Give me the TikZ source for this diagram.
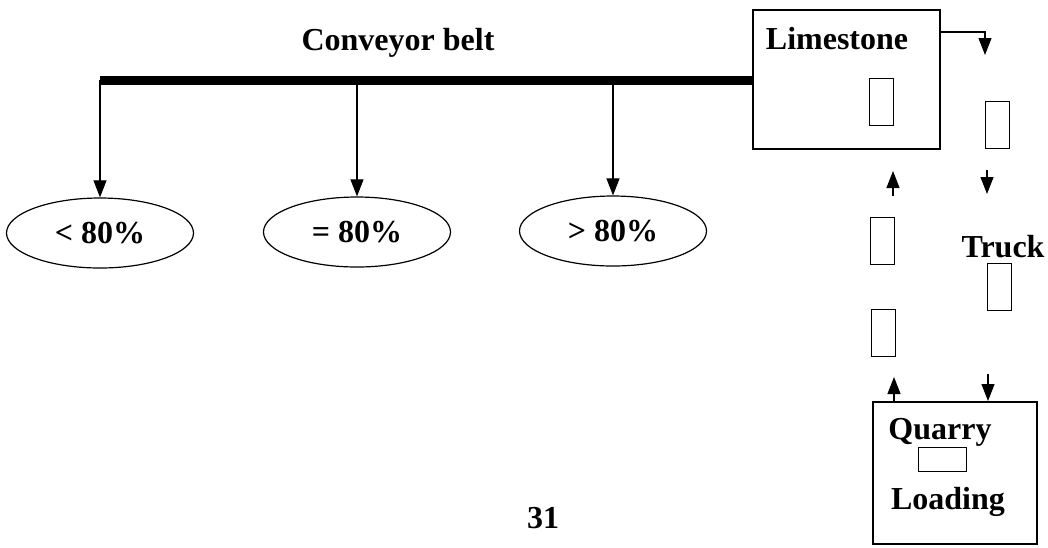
\documentclass[tikz,border=0pt]{standalone}
\usepackage{fontspec}
\setmainfont{Liberation Serif}
\usetikzlibrary{arrows.meta,shapes.geometric}
\begin{document}
\begin{tikzpicture}[x=1pt,y=-1pt,
  lbl/.style={font=\bfseries\fontsize{32}{38}\selectfont, inner sep=0pt},
  pct/.style={draw, ellipse, line width=1.2pt, minimum width=187pt, minimum height=70pt,
              inner sep=0pt, font=\bfseries\fontsize{32}{38}\selectfont},
  bigbox/.style={draw, line width=1.5pt, inner sep=0pt, anchor=north west},
  car/.style={draw, line width=1.3pt, inner sep=0pt, minimum width=24pt, minimum height=47pt, anchor=north west},
  flow/.style={line width=1.1pt, -{Triangle[width=13pt,length=17pt]}},
]
\useasboundingbox (0,0) rectangle (1048,547);

% plant boxes
\node[bigbox, minimum width=187pt, minimum height=139pt] (lime) at (752,9) {};
\node[bigbox, minimum width=164pt, minimum height=142pt] (quarry) at (872,401) {};

% labels
\node[lbl] (tbelt) at (398,43) {Conveyor belt};
\node[lbl] (tlime) at (837,39) {Limestone};
\node[lbl] (ttruck) at (1003,247) {Truck};
\node[lbl] (tquarry) at (940,432) {Quarry};
\node[lbl] (tload) at (948,502) {Loading};
\node[lbl] (tpage) at (543,518) {31};

% trucks
\node[car] (c1) at (869,78) {};
\node[car] (c2) at (985,101) {};
\node[car] (c3) at (870,217) {};
\node[car] (c4) at (987,263) {};
\node[car] (c5) at (871,309) {};
\node[car, minimum width=48pt, minimum height=24pt] (c6) at (918,447) {};

% grade piles
\node[pct] (e1) at (100,233) {< 80\%};
\node[pct] (e2) at (357,232) {= 80\%};
\node[pct] (e3) at (613,231) {> 80\%};

% conveyor belt
\coordinate (beltL) at (100,80);
\draw[line width=9pt] (beltL) -- (beltL -| lime.west);
\draw[flow] (beltL) -- (e1.north);
\draw[flow] (e2.north |- beltL) -- (e2.north);
\draw[flow] (e3.north |- beltL) -- (e3.north);

% truck circuit
\coordinate (d1) at (985,55);
\draw[flow] ([yshift=-23pt]lime.north east) -| (d1);
\coordinate (d2s) at (987,170);
\coordinate (d2e) at (987,194);
\draw[flow] (d2s) -- (d2e);
\coordinate (d3s) at (988,374);
\draw[flow] (d3s) -- (d3s |- quarry.north);
\coordinate (u1) at (894,377);
\draw[flow] (u1 |- quarry.north) -- (u1);
\coordinate (u2s) at (893,196);
\coordinate (u2e) at (893,171);
\draw[flow] (u2s) -- (u2e);
\end{tikzpicture}
\end{document}
